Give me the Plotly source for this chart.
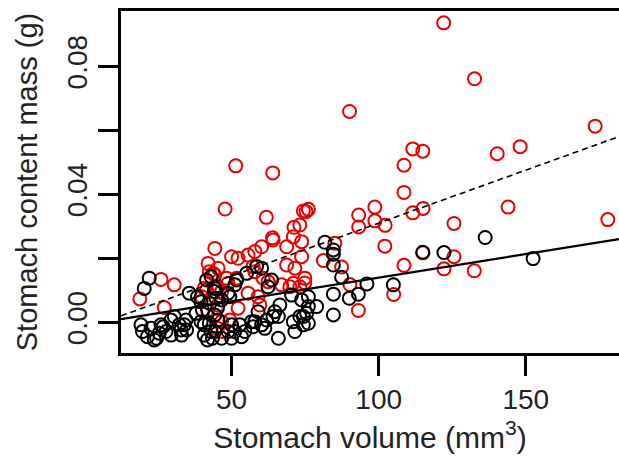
import plotly.graph_objects as go

# ---- data ----
black_x = [22.0, 20.3, 19.2, 19.7, 21.4, 23.7, 22.6, 26.0, 27.7, 25.4, 29.4, 30.5, 32.2, 32.8, 34.5,
           33.9, 29.4, 35.6, 38.4, 39.6, 40.1, 37.9, 39.6, 40.7, 42.4, 43.0, 40.7, 43.5, 41.8, 44.1,
           44.7, 43.0, 45.2, 44.3, 45.4, 44.3, 46.6, 48.8, 50.0, 50.0, 51.1, 52.8, 53.4, 54.5, 56.8,
           57.3, 57.9, 60.2, 61.9, 61.3, 64.1, 65.9, 59.0, 64.7, 65.9, 66.4, 70.4, 71.0, 73.2, 74.4,
           71.5, 73.8, 76.1, 76.1, 74.4, 76.1, 78.9, 75.5, 58.5, 60.2, 55.1, 51.7, 51.1, 62.4, 63.6,
           48.8, 49.4, 44.3, 46.6, 81.7, 84.6, 84.6, 84.6, 87.4, 96.0, 93.1, 90.0, 84.6, 84.6, 105.0,
           115.0, 122.2, 136.2, 152.5, 41.5, 42.6, 24.5, 26.7, 33.0, 34.7]
black_y = [0.0138, 0.0106, -0.0008, -0.0029, -0.0045, -0.0055, -0.0019, -0.0008, -0.0029, -0.0034,
           0.0007, 0.0018, -0.0008, -0.0024, 0.0007, -0.0008, -0.0040, 0.0091, 0.0080, 0.0064,
           0.0038, 0.0028, 0.0002, -0.0008, -0.0003, -0.0029, -0.0040, -0.0050, -0.0055, 0.0096,
           0.0075, 0.0143, 0.0044, 0.0023, 0.0007, -0.0029, -0.0050, -0.0029, -0.0050, -0.0008,
           -0.0029, -0.0008, -0.0045, -0.0029, 0.0002, -0.0014, 0.0002, -0.0008, 0.0007, -0.0019,
           0.0018, -0.0050, 0.0033, 0.0033, 0.0018, 0.0054, 0.0085, 0.0002, 0.0018, -0.0008,
           -0.0029, 0.0070, 0.0080, 0.0049, 0.0018, -0.0003, 0.0049, 0.0028, 0.0174, 0.0169,
           0.0153, 0.0132, 0.0117, 0.0111, 0.0132, 0.0091, 0.0080, 0.0106, 0.0070, 0.0250,
           0.0226, 0.0213, 0.0179, 0.0141, 0.0120, 0.0088, 0.0075, 0.0088, 0.0023, 0.0117,
           0.0219, 0.0218, 0.0265, 0.0199, 0.0132, 0.0059, -0.0050, -0.0014, -0.0040, -0.0024]

red_x = [122.1, 132.6, 90.1, 173.6, 111.6, 115.0, 140.3, 148.1, 108.6, 108.6, 144.0, 177.9, 93.2,
         98.7, 98.7, 111.6, 115.1, 125.6, 102.2, 93.2, 51.4, 64.0, 47.8, 61.8, 74.4, 76.1, 75.3,
         71.2, 63.9, 71.0, 73.8, 102.1, 85.1, 81.2, 87.4, 90.2, 93.1, 105.1, 108.6, 125.6, 122.2,
         132.5, 115.0, 74.9, 74.9, 73.8, 68.7, 60.2, 57.9, 55.6, 52.2, 50.0, 44.3, 68.7, 71.5,
         57.3, 57.9, 60.7, 62.4, 67.0, 69.8, 55.6, 59.0, 59.6, 48.3, 45.4, 45.4, 46.6, 47.1, 52.2,
         42.0, 42.4, 43.7, 26.0, 30.5, 18.8, 27.1, 40.7, 45.2, 41.8, 45.2, 39.8, 41.5, 51.7, 49.4,
         71.0, 73.2, 73.2, 44.3, 44.3, 46.6, 48.8, 64.1]
red_y = [0.0936, 0.0761, 0.0659, 0.0613, 0.0542, 0.0535, 0.0527, 0.0549, 0.0491, 0.0406, 0.0360,
         0.0321, 0.0335, 0.0360, 0.0317, 0.0342, 0.0356, 0.0309, 0.0303, 0.0298, 0.0489, 0.0467,
         0.0354, 0.0328, 0.0348, 0.0353, 0.0346, 0.0297, 0.0264, 0.0267, 0.0252, 0.0238, 0.0247,
         0.0193, 0.0173, 0.0118, 0.0037, 0.0087, 0.0178, 0.0205, 0.0167, 0.0161, 0.0217, 0.0138,
         0.0123, 0.0205, 0.0236, 0.0236, 0.0221, 0.0210, 0.0200, 0.0205, 0.0231, 0.0179, 0.0169,
         0.0174, 0.0158, 0.0138, 0.0127, 0.0117, 0.0111, 0.0091, 0.0080, 0.0054, 0.0138, 0.0169,
         0.0054, 0.0002, -0.0029, 0.0044, 0.0184, 0.0158, 0.0153, 0.0134, 0.0117, 0.0073, 0.0046,
         0.0106, 0.0106, 0.0038, -0.0019, 0.0080, 0.0101, 0.0138, 0.0007, 0.0122, 0.0304, 0.0111,
         0.0148, 0.0111, 0.0096, 0.0122, 0.0257]

# regression lines: intercept, slope
solid_fit = [-0.00083, 0.0001477]
dashed_fit = [-0.0021, 0.000331]

x_ticks = [50, 100, 150]
y_ticks = [0.00, 0.04, 0.08]
y_ticktext = ["0.00", "0.04", "0.08"]
y_minor_ticks = [0.02, 0.06]

X_RANGE = [12.4, 181.7]
Y_RANGE = [-0.0096, 0.0973]

FONT = "Liberation Sans, Arial, sans-serif"

fig = go.Figure()
marker_common = dict(symbol="circle-open", size=13)
fig.add_trace(go.Scatter(x=red_x, y=red_y, mode="markers",
                         marker=dict(color="#e80000", line=dict(width=2, color="#e80000"), **marker_common)))
fig.add_trace(go.Scatter(x=black_x, y=black_y, mode="markers",
                         marker=dict(color="black", line=dict(width=2, color="black"), **marker_common)))

lx = X_RANGE
fig.add_trace(go.Scatter(x=lx, y=[solid_fit[0] + solid_fit[1] * v for v in lx], mode="lines",
                         line=dict(color="black", width=2.2)))
fig.add_trace(go.Scatter(x=lx, y=[dashed_fit[0] + dashed_fit[1] * v for v in lx], mode="lines",
                         line=dict(color="black", width=1.6, dash="6px,4px")))

fig.update_layout(
    width=619, height=458,
    margin=dict(l=121, r=0, t=11, b=105, autoexpand=False),
    plot_bgcolor="white", paper_bgcolor="white",
    showlegend=False,
    font=dict(family=FONT, color="black"),
)
fig.update_xaxes(
    range=X_RANGE, tickvals=x_ticks, ticks="outside", ticklen=20, tickwidth=2.5, tickcolor="black",
    showline=True, linewidth=2.5, linecolor="black", mirror=True, automargin=False,
    showgrid=False, zeroline=False, tickfont=dict(size=28, color="#222"),
    title=dict(text="Stomach volume (mm<sup>3</sup>)", font=dict(size=30, color="#222"), standoff=13),
)
fig.update_yaxes(
    range=Y_RANGE, tickvals=y_ticks, ticktext=y_ticktext, tickangle=-90,
    ticks="outside", ticklen=20, tickwidth=2.5, tickcolor="black",
    minor=dict(tickvals=y_minor_ticks, ticks="outside", ticklen=20, tickwidth=2.5,
               tickcolor="black", showgrid=False),
    showline=True, linewidth=2.5, linecolor="black", mirror=False, automargin=False,
    showgrid=False, zeroline=False, tickfont=dict(size=28, color="#222"),
    title=dict(text="Stomach content mass (g)", font=dict(size=29, color="#222"), standoff=16),
)

fig.write_html(
    "out.html",
    config={"displayModeBar": False},
    post_script="document.body.style.margin='0';document.body.style.overflow='hidden';",
)
